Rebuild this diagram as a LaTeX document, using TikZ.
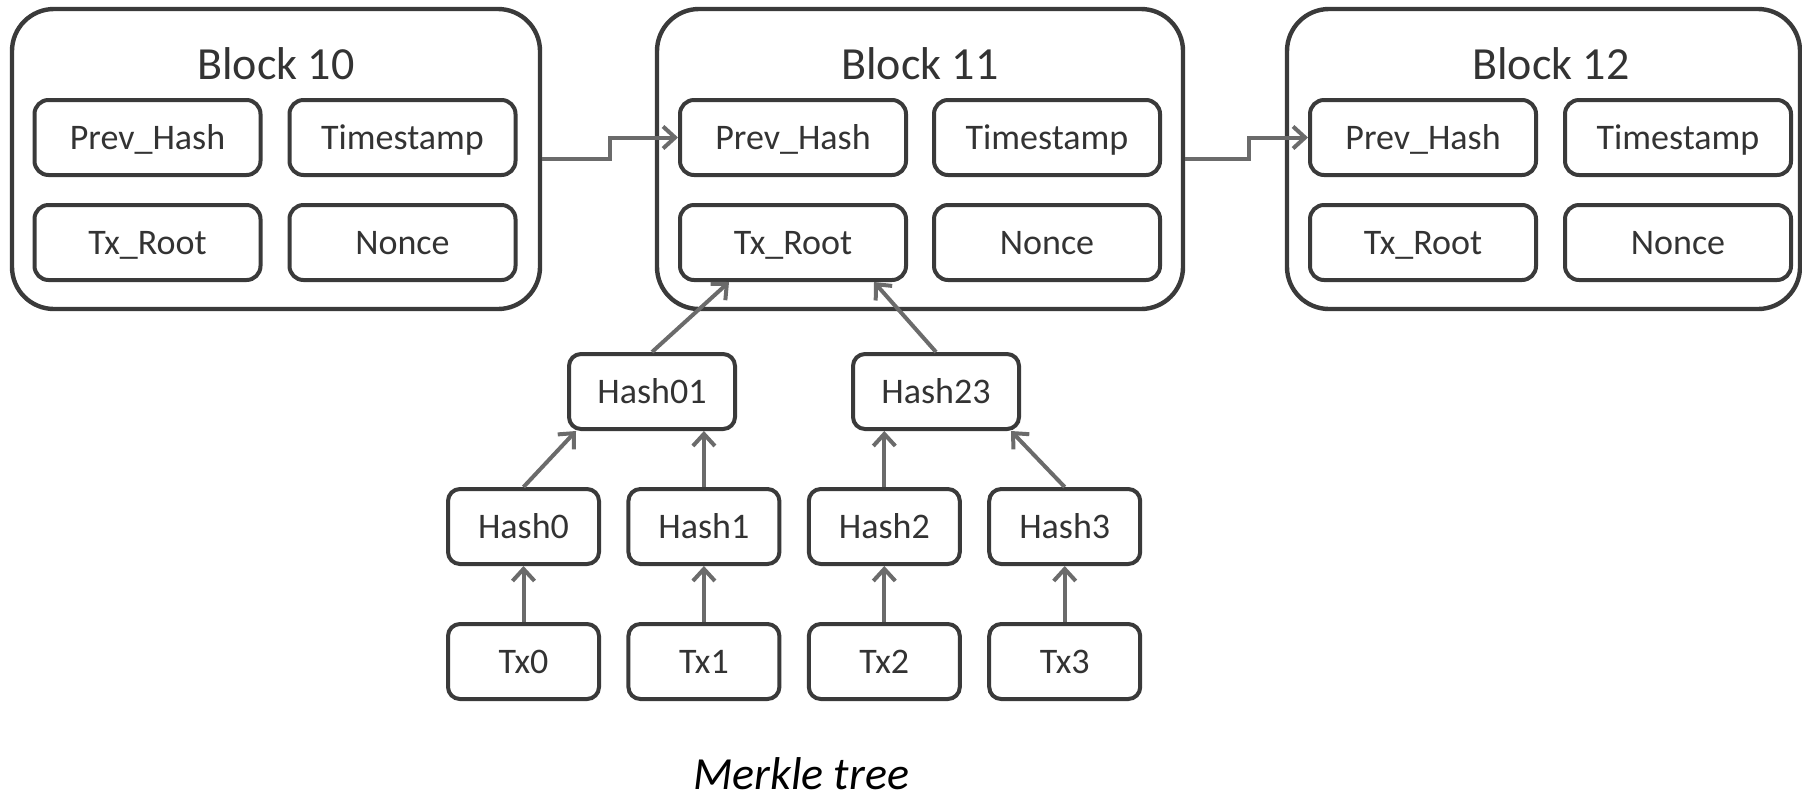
\documentclass[tikz,border=0pt]{standalone}
\usepackage{fontspec}
\setmainfont{Carlito}
\usetikzlibrary{positioning,arrows.meta}

\definecolor{boxline}{HTML}{3A3A3A}
\definecolor{linkgray}{HTML}{6B6B6B}
\definecolor{textgray}{HTML}{333333}

\tikzset{
  block/.style={draw=boxline, line width=2.2pt, rounded corners=21pt, minimum height=150pt, inner sep=0pt},
  field/.style={draw=boxline, line width=2pt, rounded corners=7pt, minimum width=113pt, minimum height=37.5pt,
    inner sep=0pt, text=textgray, font=\fontsize{18}{21}\selectfont, text height=16pt, text depth=4.4pt},
  hashbox/.style={field, rounded corners=6pt, minimum width=75.5pt},
  title/.style={anchor=base, text=textgray, font=\fontsize{23}{28}\selectfont},
  caption/.style={anchor=base, font=\fontsize{23}{28}\selectfont\itshape},
  link/.style={draw=linkgray, line width=2pt, -{Straight Barb[length=6pt,width=11pt]}},
}

\begin{document}
\begin{tikzpicture}[x=0.5pt, y=-0.5pt]
\useasboundingbox (0,0) rectangle (1802,799);

% blocks of the chain
\node[block, minimum width=264pt] (b10) at (276,159) {};
\node[block, minimum width=263pt] (b11) at (920,159) {};
\node[block, minimum width=256.5pt] (b12) at (1543.5,159) {};

\node[title] (t10) at (276,79) {Block 10};
\node[title] (t11) at (920,79) {Block 11};
\node[title] (t12) at (1551,79) {Block 12};

\node[field] (ph10) at (147.5,137.5) {Prev\_Hash};
\node[field, right=12.5pt of ph10] (ts10) {Timestamp};
\node[field, below=13pt of ph10] (tr10) {Tx\_Root};
\node[field, below=13pt of ts10] (no10) {Nonce};

\node[field] (ph11) at (793,137.5) {Prev\_Hash};
\node[field, right=12pt of ph11] (ts11) {Timestamp};
\node[field, below=13pt of ph11] (tr11) {Tx\_Root};
\node[field, below=13pt of ts11] (no11) {Nonce};

\node[field] (ph12) at (1423,137.5) {Prev\_Hash};
\node[field, right=12.5pt of ph12] (ts12) {Timestamp};
\node[field, below=13pt of ph12] (tr12) {Tx\_Root};
\node[field, below=13pt of ts12] (no12) {Nonce};

% merkle tree
\node[hashbox, minimum width=83pt] (h01) at (652,391.5) {Hash01};
\node[hashbox, minimum width=83pt] (h23) at (936,391.5) {Hash23};

\node[hashbox] (h0) at (523.5,526.5) {Hash0};
\node[hashbox, right=12.7pt of h0] (h1) {Hash1};
\node[hashbox, right=12.7pt of h1] (h2) {Hash2};
\node[hashbox, right=12.7pt of h2] (h3) {Hash3};

\node[hashbox, below=28pt of h0] (tx0) {Tx0};
\node[hashbox, below=28pt of h1] (tx1) {Tx1};
\node[hashbox, below=28pt of h2] (tx2) {Tx2};
\node[hashbox, below=28pt of h3] (tx3) {Tx3};

\node[caption] (cap) at (801,789) {Merkle tree};

% links
\draw[link] (b10.east) -- ++(34pt,0) |- (ph11.west);
\draw[link] (b11.east) -- ++(32pt,0) |- (ph12.west);

\draw[link] (h01.north) -- ([xshift=25.5pt]tr11.south west);
\draw[link] (h23.north) -- ([xshift=-17pt]tr11.south east);

\draw[link] (h0.north) -- ([xshift=4.5pt]h01.south west);
\draw[link] (h1.north) -- (h1.north |- h01.south);
\draw[link] (h2.north) -- (h2.north |- h23.south);
\draw[link] (h3.north) -- ([xshift=-5pt]h23.south east);

\draw[link] (tx0.north) -- (h0.south);
\draw[link] (tx1.north) -- (h1.south);
\draw[link] (tx2.north) -- (h2.south);
\draw[link] (tx3.north) -- (h3.south);

\end{tikzpicture}
\end{document}
